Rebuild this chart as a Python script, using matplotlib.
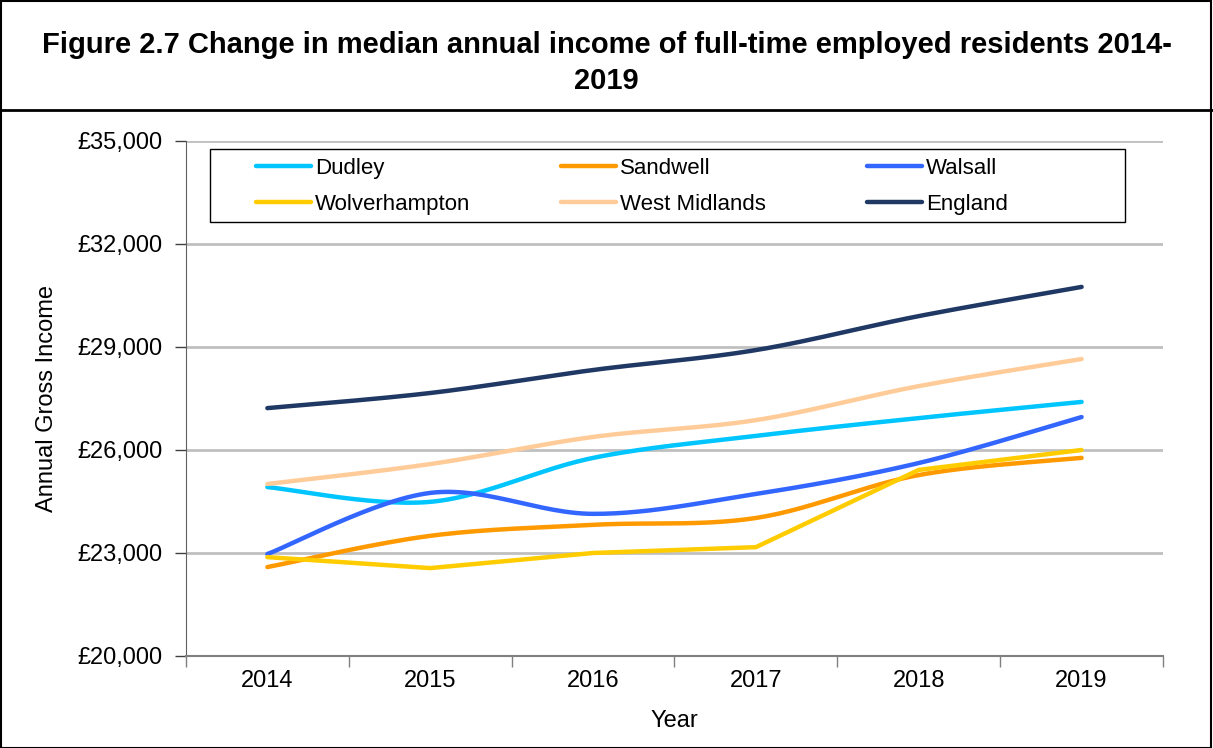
import matplotlib
matplotlib.use('Agg')
import matplotlib.pyplot as plt
from matplotlib.ticker import FuncFormatter, FixedLocator
import numpy as np

plt.rcParams['font.family'] = ['Liberation Sans', 'DejaVu Sans']

years = ['2014', '2015', '2016', '2017', '2018', '2019']
dudley = [24920, 24490, 25770, 26410, 26930, 27400]
sandwell = [22590, 23500, 23820, 24020, 25270, 25770]
walsall = [22970, 24750, 24140, 24720, 25620, 26960]
wolverhampton = [22880, 22560, 23000, 23170, 25420, 26000]
west_midlands = [25010, 25590, 26380, 26870, 27860, 28650]
england = [27220, 27660, 28330, 28910, 29900, 30750]

series = [
    ('Dudley', dudley, '#00C5FF', True),
    ('Sandwell', sandwell, '#FF9900', True),
    ('Walsall', walsall, '#3366FF', True),
    ('Wolverhampton', wolverhampton, '#FFCC00', False),
    ('West Midlands', west_midlands, '#FFCC99', True),
    ('England', england, '#1F3864', True),
]


def smooth(xs, ys, n=30):
    # catmull-rom style bezier, close to excel's smoothed line
    xs = np.asarray(xs, float)
    ys = np.asarray(ys, float)
    px, py = [], []
    for i in range(len(xs) - 1):
        i0 = max(i - 1, 0)
        i3 = min(i + 2, len(xs) - 1)
        p0 = np.array([xs[i], ys[i]])
        p3 = np.array([xs[i + 1], ys[i + 1]])
        p1 = p0 + (np.array([xs[i + 1], ys[i + 1]]) - np.array([xs[i0], ys[i0]])) / 6
        p2 = p3 - (np.array([xs[i3], ys[i3]]) - np.array([xs[i], ys[i]])) / 6
        t = np.linspace(0, 1, n)[:, None]
        pts = (1 - t) ** 3 * p0 + 3 * (1 - t) ** 2 * t * p1 + 3 * (1 - t) * t ** 2 * p2 + t ** 3 * p3
        px.extend(pts[:, 0])
        py.extend(pts[:, 1])
    return px, py


fig = plt.figure(figsize=(12.13, 7.48), dpi=100)
ax = fig.add_axes([0.1533, 0.1230, 0.8055, 0.6885])

x = np.arange(len(years))
lines = {}
for name, vals, col, sm in series:
    if sm:
        sx, sy = smooth(x, vals)
    else:
        sx, sy = x, vals
    lines[name], = ax.plot(sx, sy, color=col, lw=3.2, label=name, solid_capstyle='round', zorder=3)

ax.set_xlim(-0.5, len(years) - 0.5)
ax.set_ylim(20000, 35000)
ax.set_yticks(np.arange(20000, 35001, 3000))
ax.yaxis.set_major_formatter(FuncFormatter(lambda v, p: '£{:,.0f}'.format(v)))
ax.set_xticks(x)
ax.set_xticklabels(years)
ax.xaxis.set_minor_locator(FixedLocator(np.arange(-0.5, len(years), 1.0)))
ax.tick_params(axis='x', which='major', length=0, pad=10, labelsize=17)
ax.tick_params(axis='x', which='minor', length=8, width=1, color='#808080', direction='out')
ax.tick_params(axis='y', length=8, width=1, color='#404040', labelsize=17, pad=9)
ax.grid(axis='y', color='#c0c0c0', lw=2)
ax.set_axisbelow(True)
for s in ['top', 'right']:
    ax.spines[s].set_visible(False)
ax.spines['left'].set_color('#606060')
ax.spines['bottom'].set_color('#808080')
ax.spines['bottom'].set_linewidth(1.5)
ax.set_xlabel('Year', fontsize=17, labelpad=13)
ax.set_ylabel('Annual Gross Income', fontsize=17, labelpad=14)

# legend: three columns, two rows, filled row by row
cols = [['Dudley', 'Wolverhampton'], ['Sandwell', 'West Midlands'], ['Walsall', 'England']]
col_x = [256, 561, 867]
for i, (names, cx) in enumerate(zip(cols, col_x)):
    lg = ax.legend([lines[n] for n in names], names, loc='upper left',
                   bbox_to_anchor=((cx - 186) / 977, (656 - 158) / 515),
                   fontsize=16, frameon=False, handlelength=2.48, handletextpad=0.18,
                   borderpad=0, borderaxespad=0, labelspacing=0.68)
    if i < len(cols) - 1:
        ax.add_artist(lg)
ax.add_patch(plt.Rectangle(((210 - 186) / 977, (656 - 222) / 515), 915 / 977, 73 / 515,
                           transform=ax.transAxes, fill=False, edgecolor='black', lw=1, zorder=4))

# title box and chart border
fig.text(0.5, 1 - 63 / 748, 'Figure 2.7 Change in median annual income of full-time employed residents 2014-\n2019',
         ha='center', va='center', fontsize=21, fontweight='bold', linespacing=1.37)
fig.add_artist(plt.Line2D([0, 1], [1 - 110 / 748, 1 - 110 / 748], color='black', lw=2, transform=fig.transFigure))
fig.add_artist(plt.Rectangle((0.001, 0.0), 0.997, 0.998, fill=False, edgecolor='black', lw=1.5,
                             transform=fig.transFigure))

fig.savefig('out.png', dpi=100)
